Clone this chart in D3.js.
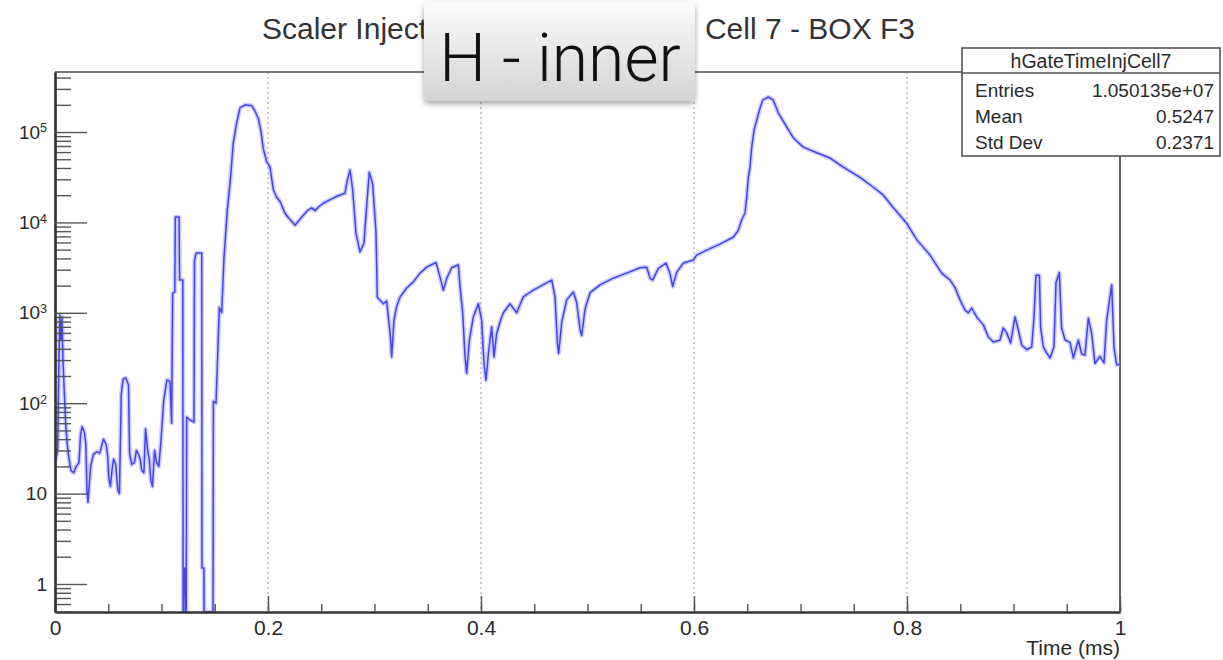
<!DOCTYPE html>
<html>
<head>
<meta charset="utf-8">
<script src="https://cdn.jsdelivr.net/npm/d3@7"></script>
<style>
  html, body { margin: 0; padding: 0; background: #fff; }
  svg { display: block; font-family: "Liberation Sans", Arial, Helvetica, sans-serif; }
</style>
</head>
<body>
<svg id="chart" width="1223" height="660"></svg>
<script>
// Gate time histogram (hGateTimeInjCell7): bin positions in ms and counts per bin
const timeMs = [
  0.000, 0.0025, 0.0035, 0.0045, 0.0055, 0.0065, 0.0075, 0.0088, 0.0100, 0.0115,
  0.0130, 0.0150, 0.0175, 0.0200, 0.0225, 0.0240, 0.0255, 0.0275, 0.0290, 0.0300,
  0.0310, 0.0320, 0.0335, 0.0360, 0.0390, 0.0420, 0.0455, 0.0480, 0.0495, 0.0505,
  0.0520, 0.0535, 0.0550, 0.0570, 0.0590, 0.0605, 0.0622, 0.0640, 0.0665, 0.0690,
  0.0700, 0.0720, 0.0745, 0.0765, 0.0785, 0.0800, 0.0815, 0.0835, 0.0850, 0.0870,
  0.0885, 0.0900, 0.0915, 0.0935, 0.0955, 0.0975, 0.0995, 0.1020, 0.1050, 0.1080,
  0.1095, 0.1105, 0.1125, 0.1130, 0.1165, 0.1170, 0.1200, 0.1203, 0.1210, 0.1218,
  0.1222, 0.1232, 0.1236, 0.1270, 0.1305, 0.1310, 0.1325, 0.1378, 0.1380, 0.1398,
  0.1400, 0.1484, 0.1487, 0.1512, 0.1543, 0.1565, 0.1587, 0.1618, 0.1649, 0.1674,
  0.1706, 0.1737, 0.1784, 0.1847, 0.1878, 0.1910, 0.1935, 0.1956, 0.1987, 0.2019,
  0.2050, 0.2081, 0.2113, 0.2160, 0.2200, 0.2254, 0.2290, 0.2332, 0.2370, 0.2410,
  0.2441, 0.2480, 0.2520, 0.2570, 0.2613, 0.2670, 0.2723, 0.2745, 0.2770, 0.2795,
  0.2826, 0.2864, 0.2901, 0.2926, 0.2951, 0.2982, 0.3014, 0.3026, 0.3083, 0.3114,
  0.3140, 0.3152, 0.3161, 0.3183, 0.3210, 0.3240, 0.3302, 0.3365, 0.3427, 0.3490,
  0.3577, 0.3615, 0.3646, 0.3678, 0.3725, 0.3787, 0.3803, 0.3828, 0.3850, 0.3865,
  0.3891, 0.3928, 0.3975, 0.4006, 0.4028, 0.4047, 0.4069, 0.4100, 0.4122, 0.4147,
  0.4180, 0.4210, 0.4272, 0.4335, 0.4397, 0.4491, 0.4585, 0.4664, 0.4695, 0.4717,
  0.4729, 0.4757, 0.4804, 0.4867, 0.4898, 0.4930, 0.4945, 0.4977, 0.5023, 0.5117,
  0.5243, 0.5368, 0.5493, 0.5556, 0.5587, 0.5612, 0.5665, 0.5737, 0.5775, 0.5800,
  0.5837, 0.5900, 0.5994, 0.6025, 0.6120, 0.6244, 0.6370, 0.6416, 0.6448, 0.6479,
  0.6495, 0.6510, 0.6526, 0.6542, 0.6564, 0.6589, 0.6614, 0.6645, 0.6698, 0.6745,
  0.6792, 0.6870, 0.6933, 0.7027, 0.7152, 0.7277, 0.7402, 0.7559, 0.7684, 0.7778,
  0.7872, 0.7997, 0.8091, 0.8216, 0.8326, 0.8404, 0.8451, 0.8498, 0.8545, 0.8576,
  0.8607, 0.8654, 0.8717, 0.8764, 0.8811, 0.8873, 0.8904, 0.8936, 0.8973, 0.9014,
  0.9045, 0.9077, 0.9124, 0.9171, 0.9192, 0.9211, 0.9243, 0.9255, 0.9280, 0.9311,
  0.9343, 0.9380, 0.9399, 0.9430, 0.9452, 0.9484, 0.9531, 0.9562, 0.9609, 0.9640,
  0.9671, 0.9703, 0.9734, 0.9765, 0.9812, 0.9850, 0.9875, 0.9922, 0.9944, 0.9969,
  1.0000
];
const counts = [
  22, 30, 220, 950, 500, 900, 300, 130, 60, 35,
  25, 18, 17, 20, 22, 45, 55, 48, 35, 11,
  8, 12, 20, 27, 29, 28, 40, 35, 26, 15,
  12, 18, 24, 21, 11, 10, 125, 185, 190, 160,
  28, 21, 22, 30, 27, 24, 18, 17, 52, 30,
  24, 14, 12, 30, 22, 20, 38, 105, 180, 175,
  60, 1650, 1700, 11500, 11500, 2300, 2300, 0, 1.5, 1.5,
  0, 0, 70, 65, 62, 3800, 4600, 4600, 1.5, 1.5,
  0, 0, 105, 100, 1150, 1000, 4100, 13700, 32000, 76000,
  126000, 185000, 200000, 195000, 170000, 140000, 100000, 65000, 47000, 41000,
  23000, 19000, 17000, 12600, 11000, 9300, 10500, 12000, 13500, 14500,
  13500, 15000, 16300, 17500, 18600, 20000, 21000, 29500, 38000, 23000,
  7600, 4700, 5900, 14800, 36000, 27000, 7800, 1490, 1260, 1350,
  700, 500, 325, 830, 1200, 1490, 1880, 2200, 2750, 3200,
  3600, 2500, 1780, 2400, 3150, 3400, 1950, 1000, 325, 215,
  500, 900, 1260, 830, 275, 180, 350, 700, 325, 590,
  800, 1000, 1260, 1000, 1500, 1780, 2050, 2300, 1500, 465,
  355, 775, 1390, 1700, 1300, 650, 560, 1100, 1660, 2040,
  2420, 2750, 3150, 3200, 2420, 2300, 3100, 3550, 2700, 1950,
  2800, 3550, 3830, 4350, 4940, 5750, 6900, 8200, 10700, 12700,
  19000, 31500, 41000, 68000, 105000, 135000, 174000, 225000, 244000, 225000,
  163000, 114000, 86000, 68000, 59000, 51500, 41000, 31500, 24500, 20000,
  14500, 9800, 6450, 4350, 2750, 2300, 1900, 1390, 1070, 1000,
  1130, 900, 735, 540, 475, 500, 680, 600, 465, 900,
  650, 440, 390, 420, 870, 2600, 2600, 680, 420, 360,
  316, 420, 2140, 2800, 680, 500, 470, 316, 500, 350,
  340, 870, 590, 275, 330, 280, 830, 2040, 415, 265,
  270
];

// Axis ticks and labels
const xMajorTicks = [0, 0.2, 0.4, 0.6, 0.8, 1];
const xGridTicks = [0.2, 0.4, 0.6, 0.8];
const yMajorTicks = [1, 10, 100, 1000, 10000, 100000];
const xAxisTitle = "Time (ms)";

// Plot title (the middle of it sits under the callout) and callout text
const titleLeft = "Scaler Inject";
const titleRight = "Cell 7 - BOX F3";
const calloutText = "H - inner";

// Statistics box
const statsName = "hGateTimeInjCell7";
const statsLabels = ["Entries", "Mean", "Std Dev"];
const statsValues = ["1.050135e+07", "0.5247", "0.2371"];

const svg = d3.select("#chart");
const frame = { left: 55, right: 1120, top: 72, bottom: 612 };

const x = d3.scaleLinear().domain([0, 1]).range([frame.left, frame.right]);
const yMin = Math.pow(10, -0.31), yMax = Math.pow(10, 5.664);
const y = d3.scaleLog().domain([yMin, yMax]).range([frame.bottom, frame.top]);

const defs = svg.append("defs");
defs.append("clipPath").attr("id", "plotClip")
  .append("rect")
  .attr("x", frame.left).attr("y", frame.top - 2)
  .attr("width", frame.right - frame.left).attr("height", frame.bottom - frame.top + 2);

const grad = defs.append("linearGradient").attr("id", "calloutFill")
  .attr("x1", 0).attr("y1", 0).attr("x2", 0).attr("y2", 1);
grad.append("stop").attr("offset", "0%").attr("stop-color", "#fbfbfb");
grad.append("stop").attr("offset", "100%").attr("stop-color", "#d4d4d4");

const shadow = defs.append("filter").attr("id", "calloutShadow")
  .attr("x", "-10%").attr("y", "-10%").attr("width", "120%").attr("height", "130%");
shadow.append("feDropShadow").attr("dx", 0).attr("dy", 3)
  .attr("stdDeviation", 3).attr("flood-color", "#000").attr("flood-opacity", 0.35);

// Vertical dotted grid lines
svg.append("g").selectAll("line").data(xGridTicks).join("line")
  .attr("x1", d => x(d)).attr("x2", d => x(d))
  .attr("y1", frame.top).attr("y2", frame.bottom)
  .attr("stroke", "#9a9a9a").attr("stroke-width", 1)
  .attr("stroke-dasharray", "2,3");

// Frame: top and right edges
svg.append("line")
  .attr("x1", frame.left).attr("x2", frame.right)
  .attr("y1", frame.top).attr("y2", frame.top)
  .attr("stroke", "#777").attr("stroke-width", 2);
svg.append("line")
  .attr("x1", frame.right).attr("x2", frame.right)
  .attr("y1", frame.top).attr("y2", frame.bottom)
  .attr("stroke", "#666").attr("stroke-width", 2);

// Histogram curve (empty bins drop to the bottom of the frame)
const pts = timeMs.map((t, i) => [t, counts[i]]);
const line = d3.line()
  .x(d => x(d[0]))
  .y(d => y(Math.max(d[1], yMin)));

const histG = svg.append("g").attr("clip-path", "url(#plotClip)");
histG.append("path").datum(pts)
  .attr("d", line).attr("fill", "none")
  .attr("stroke", "#9c9cff").attr("stroke-opacity", 0.5)
  .attr("stroke-width", 4.5).attr("stroke-linejoin", "round");
histG.append("path").datum(pts)
  .attr("d", line).attr("fill", "none")
  .attr("stroke", "#4343f0").attr("stroke-width", 1.5)
  .attr("stroke-linejoin", "round");

// X axis: minor ticks every 0.05, labelled major ticks every 0.2
const xMinorTicks = d3.range(21).map(i => i * 0.05);
const xMinorAxis = svg.append("g")
  .attr("transform", `translate(0,${frame.bottom})`)
  .call(d3.axisBottom(x).tickValues(xMinorTicks).tickSize(-8).tickSizeOuter(0).tickFormat(""));
const xMajorAxis = svg.append("g")
  .attr("transform", `translate(0,${frame.bottom})`)
  .call(d3.axisBottom(x).tickValues(xMajorTicks).tickSize(-16).tickSizeOuter(0)
    .tickPadding(8).tickFormat(d3.format("~g")));

// Y axis: log decades with 2..9 minor ticks
const yMinorTicks = [];
for (let k = -1; k <= 5; k++) {
  for (let m = 2; m <= 9; m++) {
    const v = m * Math.pow(10, k);
    if (v > yMin && v < yMax) yMinorTicks.push(v);
  }
}
const yMinorAxis = svg.append("g")
  .attr("transform", `translate(${frame.left},0)`)
  .call(d3.axisLeft(y).tickValues(yMinorTicks).tickSize(-16).tickSizeOuter(0).tickFormat(""));
const yMajorAxis = svg.append("g")
  .attr("transform", `translate(${frame.left},0)`)
  .call(d3.axisLeft(y).tickValues(yMajorTicks).tickSize(-32).tickSizeOuter(0)
    .tickPadding(9).tickFormat(""));

// Power-of-ten labels
yMajorAxis.selectAll(".tick text").each(function (d) {
  const t = d3.select(this);
  const e = Math.round(Math.log10(d));
  if (e <= 1) {
    t.text(e === 0 ? "1" : "10");
  } else {
    t.append("tspan").text("10");
    t.append("tspan").attr("dy", "-0.5em").attr("font-size", "0.66em").text(e);
  }
});

[xMinorAxis, xMajorAxis, yMinorAxis, yMajorAxis].forEach(g => {
  g.select(".domain").attr("stroke", "#333").attr("stroke-width", 2.2);
  g.selectAll(".tick line").attr("stroke", "#555").attr("stroke-width", 1.4);
  g.selectAll(".tick text").attr("fill", "#2a2a2a");
});
xMajorAxis.selectAll(".tick text").attr("font-size", 21);
yMajorAxis.selectAll(".tick text").attr("font-size", 19).attr("x", -8);

// Axis title
svg.append("text")
  .attr("x", frame.right).attr("y", 655)
  .attr("text-anchor", "end").attr("font-size", 21).attr("fill", "#2a2a2a")
  .text(xAxisTitle);

// Title
svg.append("text").attr("x", 262).attr("y", 39)
  .attr("font-size", 30).attr("fill", "#333").text(titleLeft);
svg.append("text").attr("x", 915).attr("y", 39).attr("text-anchor", "end")
  .attr("font-size", 30).attr("fill", "#333").text(titleRight);

// Statistics box
const stats = svg.append("g");
stats.append("rect")
  .attr("x", 962).attr("y", 48).attr("width", 258).attr("height", 108)
  .attr("fill", "#fff").attr("stroke", "#555").attr("stroke-width", 1.6);
stats.append("line")
  .attr("x1", 962).attr("x2", 1220).attr("y1", 73).attr("y2", 73)
  .attr("stroke", "#555").attr("stroke-width", 1.6);
stats.append("text").attr("x", 1091).attr("y", 68)
  .attr("text-anchor", "middle").attr("font-size", 19.5).attr("fill", "#2a2a2a")
  .text(statsName);
const rowY = [97, 123, 149];
stats.selectAll("text.lbl").data(statsLabels).join("text").attr("class", "lbl")
  .attr("x", 975).attr("y", (d, i) => rowY[i])
  .attr("font-size", 19).attr("fill", "#2a2a2a").text(d => d);
stats.selectAll("text.val").data(statsValues).join("text").attr("class", "val")
  .attr("x", 1214).attr("y", (d, i) => rowY[i]).attr("text-anchor", "end")
  .attr("font-size", 19).attr("fill", "#2a2a2a").text(d => d);

// Callout label
const callout = svg.append("g");
callout.append("rect")
  .attr("x", 424).attr("y", 2).attr("width", 271).attr("height", 99).attr("rx", 5)
  .attr("fill", "url(#calloutFill)").attr("filter", "url(#calloutShadow)");
callout.append("text")
  .attr("x", 560).attr("y", 81).attr("text-anchor", "middle")
  .attr("font-family", "Roboto, 'Open Sans', 'Liberation Sans', sans-serif")
  .attr("font-weight", 300).attr("font-size", 66).attr("fill", "#111")
  .text(calloutText);
</script>
</body>
</html>
